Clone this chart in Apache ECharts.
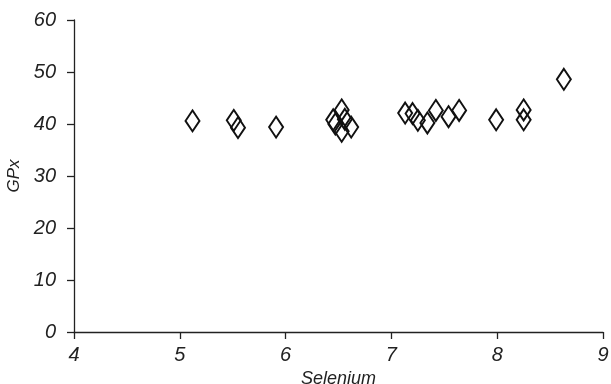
<!DOCTYPE html>
<html><head><meta charset="utf-8">
<script src="https://cdn.jsdelivr.net/npm/echarts@6/dist/echarts.min.js"></script>
<style>html,body{margin:0;padding:0;background:#fff}#c{width:611px;height:384px}</style>
</head><body><div id="c"></div>
<script>
const selenium = [5.12, 5.51, 5.55, 5.91, 6.45, 6.47, 6.53, 6.56, 6.53, 6.62, 7.13, 7.20, 7.25, 7.34, 7.42, 7.54, 7.64, 7.99, 8.25, 8.25, 8.63];
const gpx =      [40.6, 40.7, 39.3, 39.4, 40.8, 40.0, 42.7, 40.9, 38.6, 39.4, 42.1, 42.0, 40.7, 40.2, 42.6, 41.4, 42.6, 40.8, 42.7, 40.8, 48.6];
const xTicks = [4, 5, 6, 7, 8, 9];
const yTicks = [0, 10, 20, 30, 40, 50, 60];

const font = 'Liberation Sans';
const chart = echarts.init(document.getElementById('c'), null, {renderer: 'canvas'});
chart.setOption({
  animation: false,
  grid: {left: 74, right: 8, top: 20, bottom: 52, containLabel: false, outerBoundsMode: 'none'},
  xAxis: {
    type: 'value', min: xTicks[0], max: xTicks[xTicks.length-1], interval: 1,
    name: 'Selenium', nameLocation: 'middle', nameGap: 33,
    nameTextStyle: {fontFamily: font, fontStyle: 'italic', fontSize: 18, color: '#222'},
    axisLine: {show: true, lineStyle: {color: '#222', width: 1.3}},
    axisTick: {show: true, length: 7, lineStyle: {color: '#222', width: 1.3}},
    axisLabel: {fontFamily: font, fontStyle: 'italic', fontSize: 20, color: '#222', margin: 13},
    splitLine: {show: false}
  },
  yAxis: {
    type: 'value', min: yTicks[0], max: yTicks[yTicks.length-1], interval: 10,
    name: 'GPx', nameLocation: 'middle', nameGap: 47,
    nameTextStyle: {fontFamily: font, fontStyle: 'italic', fontSize: 17, color: '#222'},
    axisLine: {show: true, lineStyle: {color: '#222', width: 1.3}},
    axisTick: {show: true, length: 7, lineStyle: {color: '#222', width: 1.3}},
    axisLabel: {fontFamily: font, fontStyle: 'italic', fontSize: 20, color: '#222', margin: 18},
    splitLine: {show: false}
  },
  series: [{
    type: 'scatter',
    data: selenium.map((x, i) => [x, gpx[i]]),
    symbol: 'diamond',
    symbolSize: [14, 21],
    itemStyle: {color: 'rgba(0,0,0,0)', borderColor: '#111', borderWidth: 2, opacity: 1}
  }]
});
</script></body></html>
